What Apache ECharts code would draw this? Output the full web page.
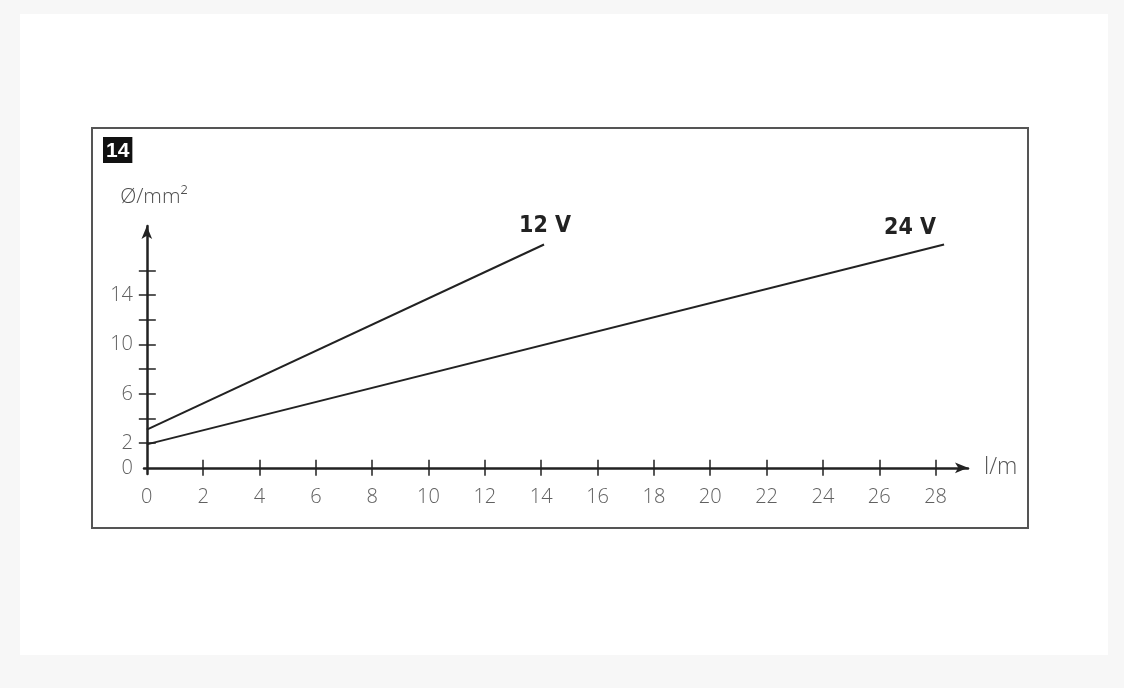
<!DOCTYPE html>
<html>
<head>
<meta charset="utf-8">
<script src="https://cdn.jsdelivr.net/npm/echarts@6/dist/echarts.min.js"></script>
<style>
html,body{margin:0;padding:0;background:#f7f7f7;}
#card{position:absolute;left:20px;top:14px;width:1088px;height:641px;background:#fff;}
#chart{position:absolute;left:0;top:0;width:1124px;height:688px;}
</style>
</head>
<body>
<div id="card"></div>
<div id="chart"></div>
<script>
// Data
const figureNumber = '14';
const xLabelValues = [0, 2, 4, 6, 8, 10, 12, 14, 16, 18, 20, 22, 24, 26, 28];
const xTickValues = [2, 4, 6, 8, 10, 12, 14, 16, 18, 20, 22, 24, 26, 28];
const yLabelValues = [0, 2, 6, 10, 14];
const yTickValues = [2, 4, 6, 8, 10, 12, 14, 16];
const series12V = [[0, 3.1], [14.1, 18.1]];
const series24V = [[0, 1.9], [28.3, 18.1]];
const xName = 'l/m';
const yName = 'Ø/mm²';

const labelFont = {color: '#606060', fontSize: 20, fontFamily: '"Open Sans", Lato, sans-serif', fontWeight: 300};
const boldFont = '"Liberation Sans Narrow", "DejaVu Sans Condensed", "Roboto Condensed", sans-serif';
const xMin = -0.1, xMax = 29.15, yMin = -0.5, yMax = 19.6;

const chart = echarts.init(document.getElementById('chart'), null, {renderer: 'canvas'});
chart.setOption({
  backgroundColor: 'transparent',
  animation: false,
  title: {
    text: figureNumber, left: 103, top: 137,
    backgroundColor: '#111', padding: [3, 3, 1, 3],
    textStyle: {color: '#fff', fontSize: 21, fontWeight: 'bold', fontFamily: '"Liberation Sans", Arial, sans-serif', lineHeight: 22}
  },
  graphic: [{
    type: 'rect', z: -1, silent: true,
    shape: {x: 92, y: 128, width: 936, height: 400},
    style: {fill: 'none', stroke: '#555', lineWidth: 2}
  }],
  grid: {left: 144, right: 156, top: 226, bottom: 214, containLabel: false, outerBoundsMode: 'none'},
  xAxis: [{
    type: 'value', min: xMin, max: xMax, position: 'bottom',
    name: xName, nameLocation: 'end', nameGap: 16,
    nameTextStyle: {color: '#555', fontSize: 23, fontFamily: '"Open Sans", Lato, sans-serif', fontWeight: 300, verticalAlign: 'middle', padding: [8, 0, 0, 0]},
    axisLine: {show: true, lineStyle: {color: '#222', width: 2.5}, symbol: ['none', 'arrow'], symbolSize: [8, 13]},
    axisTick: {show: true, inside: false, length: 8, lineStyle: {color: '#222', width: 1.5}, customValues: xTickValues},
    axisLabel: Object.assign({margin: 13, customValues: xLabelValues}, labelFont),
    splitLine: {show: false}
  }, {
    type: 'value', min: xMin, max: xMax, position: 'bottom', offset: 0,
    axisLine: {show: false},
    axisTick: {show: true, inside: true, length: 8, lineStyle: {color: '#222', width: 1.5}, customValues: xTickValues},
    axisLabel: {show: false},
    splitLine: {show: false}
  }],
  yAxis: [{
    type: 'value', min: yMin, max: yMax, position: 'left',
    name: yName, nameLocation: 'end', nameGap: 18,
    nameTextStyle: {color: '#4e4e4e', fontSize: 21, fontFamily: '"Open Sans", Lato, sans-serif', fontWeight: 300, padding: [0, 0, 0, 14]},
    axisLine: {show: true, lineStyle: {color: '#222', width: 2.5}, symbol: ['none', 'arrow'], symbolSize: [8, 13]},
    axisTick: {show: true, inside: false, length: 8, lineStyle: {color: '#222', width: 1.5}, customValues: yTickValues},
    axisLabel: Object.assign({margin: 11, customValues: yLabelValues}, labelFont),
    splitLine: {show: false}
  }, {
    type: 'value', min: yMin, max: yMax, position: 'left', offset: 0,
    axisLine: {show: false},
    axisTick: {show: true, inside: true, length: 9, lineStyle: {color: '#222', width: 1.5}, customValues: yTickValues},
    axisLabel: {show: false},
    splitLine: {show: false}
  }],
  series: [{
    name: '12 V', type: 'line', data: series12V, symbol: 'none',
    lineStyle: {color: '#222', width: 2},
    endLabel: {show: true, formatter: '{a}', color: '#222', fontSize: 23, fontWeight: 'bold',
      fontFamily: boldFont, align: 'center', verticalAlign: 'bottom', offset: [-7, -7]}
  }, {
    name: '24 V', type: 'line', data: series24V, symbol: 'none',
    lineStyle: {color: '#222', width: 2},
    endLabel: {show: true, formatter: '{a}', color: '#222', fontSize: 23, fontWeight: 'bold',
      fontFamily: boldFont, align: 'center', verticalAlign: 'bottom', offset: [-42, -5]}
  }]
});
</script>
</body>
</html>
